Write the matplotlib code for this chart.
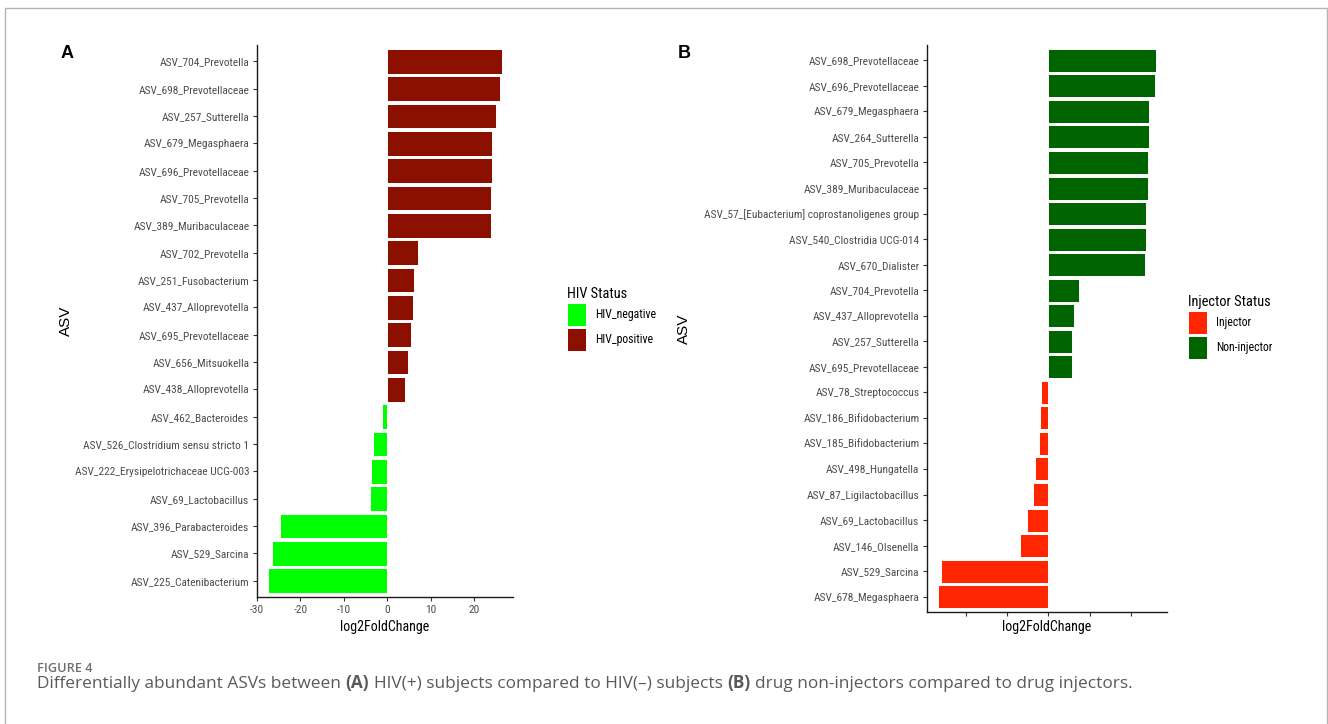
import matplotlib
matplotlib.use("Agg")
import matplotlib.pyplot as plt
from matplotlib import font_manager
from matplotlib.font_manager import FontProperties
from matplotlib.patches import Patch, Rectangle
from matplotlib.transforms import IdentityTransform
import numpy as np

# Panel A: HIV(+) vs HIV(-), listed top to bottom
asv_a = [
    "ASV_704_Prevotella", "ASV_698_Prevotellaceae", "ASV_257_Sutterella",
    "ASV_679_Megasphaera", "ASV_696_Prevotellaceae", "ASV_705_Prevotella",
    "ASV_389_Muribaculaceae", "ASV_702_Prevotella", "ASV_251_Fusobacterium",
    "ASV_437_Alloprevotella", "ASV_695_Prevotellaceae", "ASV_656_Mitsuokella",
    "ASV_438_Alloprevotella", "ASV_462_Bacteroides",
    "ASV_526_Clostridium sensu stricto 1",
    "ASV_222_Erysipelotrichaceae UCG-003", "ASV_69_Lactobacillus",
    "ASV_396_Parabacteroides", "ASV_529_Sarcina", "ASV_225_Catenibacterium",
]
lfc_a = [26.5, 25.9, 25.1, 24.2, 24.1, 24.0, 24.0, 7.0, 6.2, 5.9, 5.6, 4.9,
         4.2, -1.1, -3.2, -3.8, -4.0, -24.6, -26.5, -27.4]
status_a = ["HIV_positive"] * 13 + ["HIV_negative"] * 7

# Panel B: non-injectors vs injectors, listed top to bottom
asv_b = [
    "ASV_698_Prevotellaceae", "ASV_696_Prevotellaceae", "ASV_679_Megasphaera",
    "ASV_264_Sutterella", "ASV_705_Prevotella", "ASV_389_Muribaculaceae",
    "ASV_57_[Eubacterium] coprostanoligenes group",
    "ASV_540_Clostridia UCG-014", "ASV_670_Dialister", "ASV_704_Prevotella",
    "ASV_437_Alloprevotella", "ASV_257_Sutterella", "ASV_695_Prevotellaceae",
    "ASV_78_Streptococcus", "ASV_186_Bifidobacterium",
    "ASV_185_Bifidobacterium", "ASV_498_Hungatella",
    "ASV_87_Ligilactobacillus", "ASV_69_Lactobacillus", "ASV_146_Olsenella",
    "ASV_529_Sarcina", "ASV_678_Megasphaera",
]
lfc_b = [26.1, 25.8, 24.3, 24.3, 24.2, 24.1, 23.7, 23.5, 23.3, 7.5, 6.3, 5.7,
         5.7, -1.8, -2.0, -2.3, -3.2, -3.8, -5.2, -6.8, -25.9, -26.7]
status_b = ["Non-injector"] * 13 + ["Injector"] * 9

x_ticks = [-30, -20, -10, 0, 10, 20]

W, H = 1328, 724


def pick_font(names):
    for name in names:
        try:
            font_manager.findfont(name, fallback_to_default=False)
            return name
        except Exception:
            pass
    return "DejaVu Sans"


def find_narrow_file():
    # prefer a real narrow / condensed sans face if one is installed
    wanted = ["Liberation Sans Narrow", "Arial Narrow", "Roboto Condensed",
              "Open Sans Condensed", "Noto Sans Condensed", "DejaVu Sans Condensed"]
    faces = font_manager.fontManager.ttflist
    for name in wanted:
        for f in faces:
            if f.name == name and f.style == "normal" and f.weight in (400, "normal", "regular"):
                return f.fname
    for f in faces:
        if (f.stretch in ("condensed", "semi-condensed") and f.style == "normal"
                and "Mono" not in f.name and "Serif" not in f.name
                and f.weight in (400, "normal", "regular")):
            return f.fname
    return None


SANS = pick_font(["Liberation Sans", "Arial", "DejaVu Sans"])
CAPTION = pick_font(["Open Sans", "Noto Sans", "DejaVu Sans"])
narrow_file = find_narrow_file()


def fx(x):
    return x / W


def fy(y):
    return 1 - y / H


fig = plt.figure(figsize=(W / 100, H / 100), dpi=100)
fig.patch.set_facecolor("white")
fig.canvas.draw()
renderer = fig.canvas.get_renderer()


def base_props(size):
    if narrow_file:
        return FontProperties(fname=narrow_file, size=size)
    return FontProperties(family=SANS, size=size)


# the reference text is horizontally compact: calibrate size on a known label width
probe = fig.text(0, 0, "ASV_704_Prevotella", fontproperties=base_props(8.7))
scale = min(1.0, 90.0 / probe.get_window_extent(renderer).width)
probe.remove()


def nfont(size):
    return base_props(size * scale)


def add_axes_px(left, top, right, bottom):
    return fig.add_axes([fx(left), fy(bottom), (right - left) / W, (bottom - top) / H])


def draw_panel(ax, names, vals, status, colors, xlim, ticks, show_labels):
    n = len(names)
    ypos = np.arange(n)[::-1]
    ax.barh(ypos, vals, height=0.9, color=[colors[s] for s in status],
            edgecolor="white", linewidth=0.7)
    ax.set_ylim(-0.6, n - 0.4)
    ax.set_xlim(*xlim)
    ax.set_yticks(ypos)
    ax.set_yticklabels(names, fontproperties=nfont(8.7), color="#4D4D4D")
    ax.set_xticks(ticks)
    if show_labels:
        ax.set_xticklabels([str(t) for t in ticks], fontproperties=nfont(8.7),
                           color="#4D4D4D")
    else:
        ax.set_xticklabels([])
    for side in ["top", "right"]:
        ax.spines[side].set_visible(False)
    for side in ["left", "bottom"]:
        ax.spines[side].set_linewidth(1.0)
        ax.spines[side].set_color("#1A1A1A")
    ax.tick_params(axis="both", length=3, width=0.8, color="#333333", pad=2.5)


# outer frame of the figure page
fig.patches.append(Rectangle((fx(4.5), -0.05), fx(1327) - fx(4.5), fy(7.5) + 0.05,
                             transform=fig.transFigure, fill=False,
                             edgecolor="#B5B5B5", linewidth=1.0))

colors_a = {"HIV_negative": "#00FF00", "HIV_positive": "#8B1000"}
colors_b = {"Injector": "#FF2600", "Non-injector": "#006400"}

ax_a = add_axes_px(257, 45, 513, 597)
draw_panel(ax_a, asv_a, lfc_a, status_a, colors_a, (-30, 29), x_ticks, True)

ax_b = add_axes_px(927, 45, 1167, 612)
draw_panel(ax_b, asv_b, lfc_b, status_b, colors_b, (-29.4, 28.7), x_ticks[1:], False)

# axis titles
for xc in [385, 1047]:
    fig.text(fx(xc), fy(627), "log2FoldChange", fontproperties=nfont(10.7),
             ha="center", va="center")
fig.text(fx(66), fy(321), "ASV", fontfamily=SANS, fontsize=11, rotation=90,
         ha="center", va="center")
fig.text(fx(684), fy(329), "ASV", fontfamily=SANS, fontsize=11, rotation=90,
         ha="center", va="center")

# panel letters
fig.text(fx(67), fy(53.5), "A", fontfamily=SANS, fontsize=13, fontweight="bold",
         ha="center", va="center")
fig.text(fx(684), fy(53.5), "B", fontfamily=SANS, fontsize=13, fontweight="bold",
         ha="center", va="center")

# legends
leg_fp = nfont(9)
leg_px = leg_fp.get_size_in_points() * 100 / 72
hh = (23.5 / leg_px - 0.245) / 0.65
for title, colors, order, (lx, ly) in [
    ("HIV Status", colors_a, ["HIV_negative", "HIV_positive"], (567, 287)),
    ("Injector Status", colors_b, ["Injector", "Non-injector"], (1188, 295)),
]:
    handles = [Patch(facecolor=colors[k], edgecolor="white", linewidth=0.7, label=k)
               for k in order]
    leg = fig.legend(handles=handles, title=title, loc="upper left",
                     bbox_to_anchor=(fx(lx), fy(ly)), frameon=False,
                     borderpad=0, borderaxespad=0,
                     prop=leg_fp, title_fontproperties=nfont(11),
                     handlelength=19.0 / leg_px, handleheight=hh,
                     handletextpad=9.0 / leg_px, labelspacing=1.5 / leg_px)
    leg._legend_box.align = "left"

# caption
fig.text(fx(37), fy(668), "FIGURE 4", fontfamily=CAPTION, fontsize=9.2,
         fontweight="semibold", color="#6E6E6E", va="center", ha="left")

pieces = [
    ("Differentially abundant ASVs between", "normal"),
    ("(A)", "bold"),
    ("HIV(+) subjects compared to HIV(\u2013) subjects", "normal"),
    ("(B)", "bold"),
    ("drug non-injectors compared to drug injectors.", "normal"),
]
cap_size = 12.4
probe1 = fig.text(0, 0, "xx", fontfamily=CAPTION, fontsize=cap_size)
probe2 = fig.text(0, 0, "x x", fontfamily=CAPTION, fontsize=cap_size)
space_w = probe2.get_window_extent(renderer).width - probe1.get_window_extent(renderer).width
probe1.remove()
probe2.remove()

x = 37.0
base_y = H - 688
for txt, weight in pieces:
    t = fig.text(x, base_y, txt, fontfamily=[CAPTION, "DejaVu Sans"], fontsize=cap_size,
                 fontweight=weight, color="#5A5A5A", va="baseline", ha="left",
                 transform=IdentityTransform())
    x += t.get_window_extent(renderer).width + space_w

fig.savefig("out.png", dpi=100, facecolor="white")
